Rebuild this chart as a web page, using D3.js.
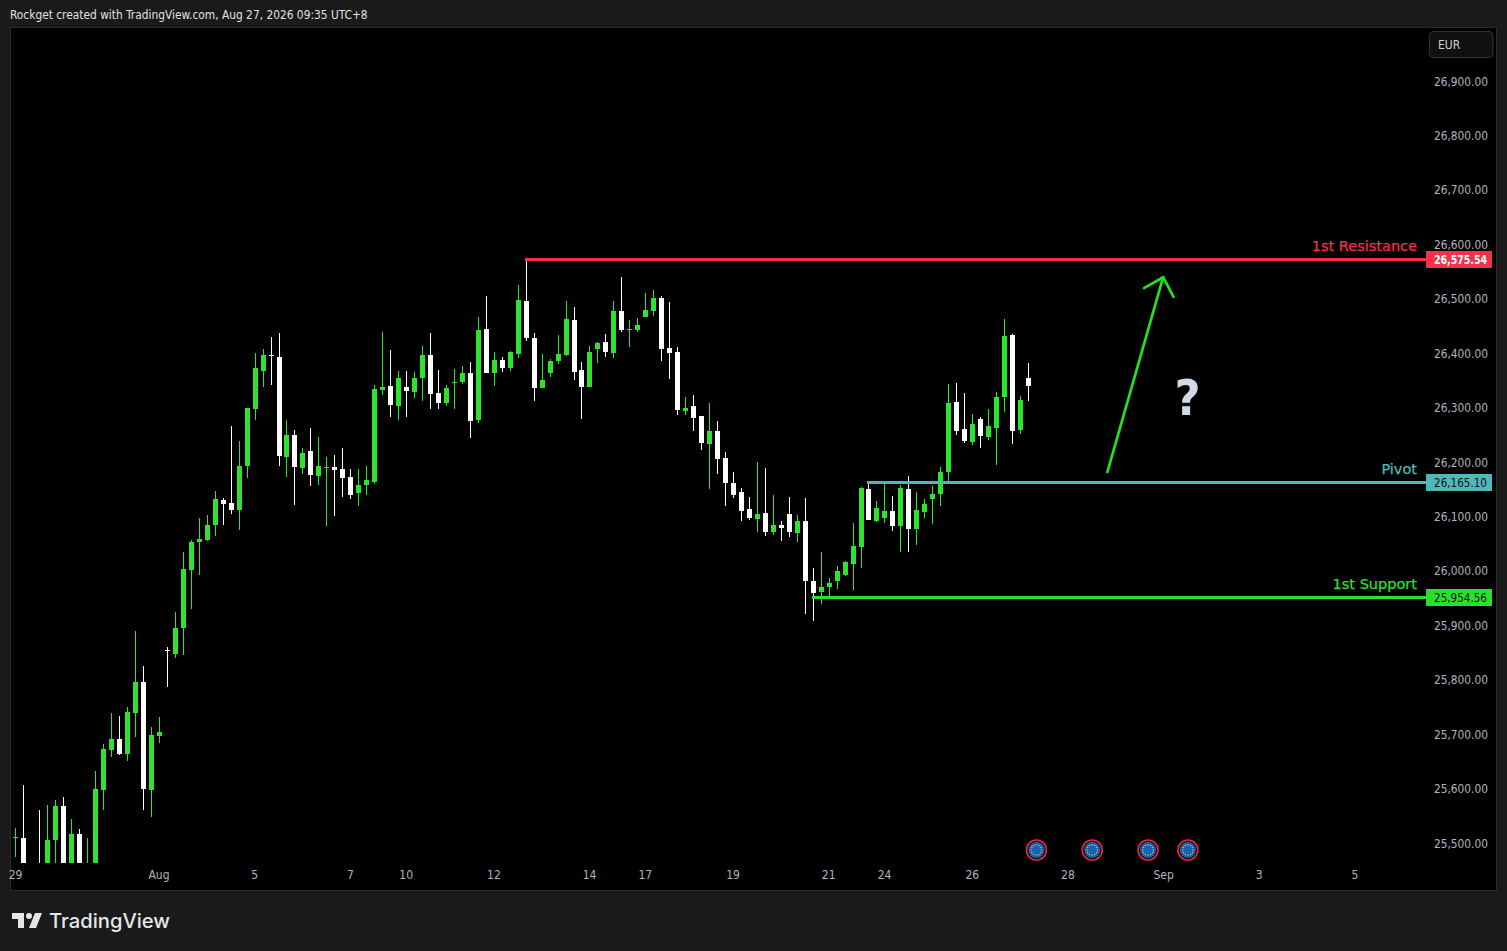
<!DOCTYPE html>
<html><head><meta charset="utf-8">
<script src="https://cdn.jsdelivr.net/npm/d3@7/dist/d3.min.js"></script>
<style>html,body{margin:0;padding:0;background:#1a1a1a;overflow:hidden}svg{display:block}
text{font-family:"DejaVu Sans Condensed","DejaVu Sans",sans-serif}</style>
</head><body><svg id="c" width="1507" height="951"></svg>
<script>
const opens=[25513,25513,25445,25450,25436,25509,25572,25436,25520,25436,
25436,25601,25674,25695,25667,25742,25799,25601,25700,25858,
25851,25899,26005,26056,26060,26088,26134,26128,26115,26196,
26301,26371,26400,26396,26213,26253,26193,26224,26178,26193,
26194,26191,26176,26147,26161,26167,26336,26343,26306,26341,
26332,26358,26400,26330,26312,26349,26350,26367,26281,26448,
26367,26391,26376,26402,26499,26431,26339,26367,26389,26400,
26464,26372,26341,26411,26424,26404,26481,26446,26446,26470,
26481,26505,26413,26406,26297,26306,26288,26237,26260,26211,
26165,26148,26117,26099,26110,26075,26088,26108,26073,26095,
25985,25965,25974,25985,25996,26016,26047,26154,26095,26101,
26113,26086,26154,26080,26112,26135,26145,26185,26314,26264,
26240,26283,26249,26266,26323,26437,26262,26358];
const highs=[25531,25610,25454,25564,25573,25583,25588,25548,25529,25513,
25636,25685,25742,25737,25753,25893,25829,25717,25735,25864,
25928,26038,26060,26101,26106,26150,26137,26270,26242,26303,
26404,26411,26433,26441,26281,26262,26229,26266,26249,26213,
26216,26229,26191,26191,26196,26345,26442,26409,26371,26371,
26369,26417,26441,26373,26345,26374,26380,26387,26470,26508,
26406,26396,26407,26529,26578,26441,26402,26393,26437,26499,
26488,26387,26417,26424,26439,26499,26543,26464,26468,26514,
26520,26508,26497,26415,26323,26327,26288,26312,26279,26222,
26185,26156,26139,26203,26192,26143,26095,26139,26106,26137,
26009,26038,25990,26012,26022,26091,26158,26167,26132,26169,
26141,26161,26178,26148,26135,26159,26194,26347,26349,26330,
26292,26286,26301,26332,26466,26439,26325,26385];
const lows=[25478,25417,25408,25399,25417,25445,25417,25426,25426,25417,
25417,25564,25661,25665,25654,25698,25564,25551,25687,25790,
25843,25849,25933,25996,26058,26067,26088,26108,26079,26174,
26281,26341,26345,26196,26176,26125,26181,26159,26161,26086,
26104,26139,26135,26123,26143,26163,26327,26286,26281,26286,
26321,26316,26301,26301,26306,26301,26347,26248,26275,26367,
26343,26369,26371,26395,26426,26316,26339,26360,26384,26398,
26354,26283,26341,26385,26396,26395,26442,26415,26442,26470,
26472,26389,26356,26290,26290,26260,26226,26154,26181,26123,
26137,26095,26097,26075,26068,26069,26058,26066,26056,25924,
25911,25943,25957,25970,25994,25968,26009,26097,26093,26091,
26077,26038,26038,26051,26101,26090,26123,26167,26253,26238,
26235,26229,26244,26198,26295,26237,26255,26316];
const closes=[25515,25439,25426,25426,25509,25572,25436,25520,25445,25454,
25603,25676,25695,25667,25744,25799,25603,25702,25708,25856,
25899,26007,26056,26062,26088,26135,26126,26115,26196,26303,
26376,26400,26398,26215,26253,26194,26220,26180,26196,26194,
26189,26174,26143,26161,26170,26338,26341,26308,26358,26334,
26358,26400,26328,26312,26339,26350,26367,26279,26446,26367,
26391,26376,26406,26501,26431,26339,26354,26389,26402,26466,
26369,26341,26406,26422,26406,26481,26446,26448,26455,26483,
26505,26411,26404,26299,26303,26284,26238,26260,26209,26165,
26143,26113,26100,26108,26075,26088,26082,26075,26095,25985,
25963,25974,25981,26003,26020,26049,26156,26097,26119,26113,
26086,26156,26080,26115,26126,26145,26185,26312,26260,26242,
26273,26251,26270,26323,26435,26260,26317,26343];
const priceTicks=[25500,25600,25700,25800,25900,26000,26100,26200,26300,26400,26500,26600,26700,26800,26900];
const timeTickBars=[0,18,30,42,49,60,72,79,90,102,109,120,132,144,156,168];
const timeTickLabels=["29","Aug","5","7","10","12","14","17","19","21","24","26","28","Sep","3","5"];
const levelNames=["1st Resistance","Pivot","1st Support"];
const levelPrices=[26575.54,26165.10,25954.56];
const levelStartBars=[64,107,100];
const levelColors=["#f5304a","#4fb9b9","#2be02b"];
const levelTagText=["#ffffff","#111111","#111111"];
const eventBars=[128,135,142,147];
const arrowShaft=[[136.9,26185],[143.9,26543]];
const arrowHead=[[141.5,26523],[143.9,26543],[145.2,26507]];

const svg=d3.select("#c");
const x=d3.scaleLinear().domain([0,127]).range([15.925,1028.45]);
const y=d3.scaleLinear().domain([26575.54,25954.56]).range([259.5,597.5]);
const upCol="#2de32d",downCol="#ffffff",axisCol="#b2b5be";

// frame
svg.append("rect").attr("width",1507).attr("height",951).attr("fill","#1a1a1a");
svg.append("rect").attr("x",10.5).attr("y",27.5).attr("width",1486).attr("height",863)
   .attr("fill","#000").attr("stroke","#2b2b2b");
svg.append("defs").append("clipPath").attr("id","plot").append("rect")
   .attr("x",11).attr("y",28).attr("width",1414).attr("height",835);

svg.append("text").attr("x",10).attr("y",18.5).attr("fill","#e0e0e0").attr("font-size",11.83)
   .text("Rockget created with TradingView.com, Aug 27, 2026 09:35 UTC+8");

// candles
const bars=d3.range(opens.length);
const g=svg.append("g").attr("clip-path","url(#plot)").attr("shape-rendering","crispEdges");
const col=i=>closes[i]>=opens[i]?upCol:downCol;
g.selectAll("rect.w").data(bars).join("rect").attr("class","w")
  .attr("x",i=>Math.floor(x(i))).attr("width",1)
  .attr("y",i=>y(highs[i])).attr("height",i=>y(lows[i])-y(highs[i])).attr("fill",col);
g.selectAll("rect.b").data(bars).join("rect").attr("class","b")
  .attr("x",i=>Math.floor(x(i))-2).attr("width",5)
  .attr("y",i=>Math.min(y(opens[i]),y(closes[i])))
  .attr("height",i=>Math.max(1,Math.abs(y(opens[i])-y(closes[i])))).attr("fill",col);

// levels
levelPrices.forEach((p,k)=>{
  const ly=Math.round(y(p))-0.5;
  svg.append("line").attr("x1",Math.floor(x(levelStartBars[k]))-1).attr("x2",1426).attr("y1",ly).attr("y2",ly)
     .attr("stroke",levelColors[k]).attr("stroke-width",3);
  svg.append("text").attr("x",1417).attr("y",ly-9).attr("text-anchor","end")
     .attr("fill",levelColors[k]).attr("stroke",levelColors[k]).attr("stroke-width",0.25)
     .attr("font-size",14.5).style("font-family","'DejaVu Sans'").text(levelNames[k]);
  svg.append("rect").attr("x",1426).attr("y",Math.round(ly)-9).attr("width",66).attr("height",17)
     .attr("fill",levelColors[k]);
  svg.append("text").attr("x",1434).attr("y",ly+4).attr("fill",levelTagText[k]).attr("font-size",12)
     .attr("textLength",53).attr("lengthAdjust","spacingAndGlyphs")
     .attr("font-weight",k==0?"bold":"normal").text(d3.format(",.2f")(p));
});

// arrow
const lineGen=d3.line().x(d=>x(d[0])).y(d=>y(d[1]));
[arrowShaft,arrowHead].forEach(a=>svg.append("path").attr("d",lineGen(a)).attr("fill","none")
  .attr("stroke","#22e022").attr("stroke-width",2.7).attr("stroke-linecap","round").attr("stroke-linejoin","round"));
svg.append("text").attr("x",1187.5).attr("y",415).attr("text-anchor","middle")
   .attr("fill","#d1d9e6").attr("font-size",50).attr("font-weight","bold").text("?");

// price axis
const yAxis=d3.axisRight(y).tickValues(priceTicks).tickSize(0).tickPadding(0).tickFormat(d3.format(",.2f"));
const ya=svg.append("g").attr("transform","translate(1434,-1.6)").call(yAxis);
ya.select(".domain").remove();
ya.selectAll("text").attr("fill",axisCol).attr("font-size",11.8);

// time axis
const xAxis=d3.axisBottom(x).tickValues(timeTickBars).tickSize(0).tickPadding(0)
   .tickFormat((d,i)=>timeTickLabels[i]);
const xa=svg.append("g").attr("transform","translate(-0.9,870)").call(xAxis);
xa.select(".domain").remove();
xa.selectAll("text").attr("fill",axisCol).attr("font-size",12);

// event markers
const ev=svg.append("g").selectAll("g").data(eventBars).join("g")
   .attr("transform",b=>`translate(${x(b)},850)`);
ev.append("circle").attr("r",10).attr("fill","#0d0d14").attr("stroke","#e8283c").attr("stroke-width",1.6);
ev.append("circle").attr("r",8).attr("fill","#1560b8");
ev.each(function(){
  const n=d3.select(this);
  d3.range(12).forEach(k=>{
    const a=k*Math.PI/6;
    n.append("circle").attr("cx",5.2*Math.cos(a)).attr("cy",5.2*Math.sin(a)).attr("r",0.8).attr("fill","#d8b93a");
  });
});

// EUR button
svg.append("rect").attr("x",1429.5).attr("y",31.5).attr("width",63.5).attr("height",26).attr("rx",4)
   .attr("fill","#101010").attr("stroke","#333");
svg.append("text").attr("x",1438).attr("y",48.5).attr("fill","#d0d0d0").attr("font-size",12).text("EUR");

// logo
svg.append("path").attr("transform","translate(10,907)")
   .attr("d","M14 6H2v6h6v9h6V6Zm12 15h-7l6-15h7l-6 15Zm-7-9a3 3 0 1 0 0-6 3 3 0 0 0 0 6Z").attr("fill","#e6e6e6");
svg.append("text").attr("x",49).attr("y",928).attr("fill","#e6e6e6").attr("font-size",20.2)
   .style("font-family","Inter").attr("font-weight",500).text("TradingView");
</script></body></html>
